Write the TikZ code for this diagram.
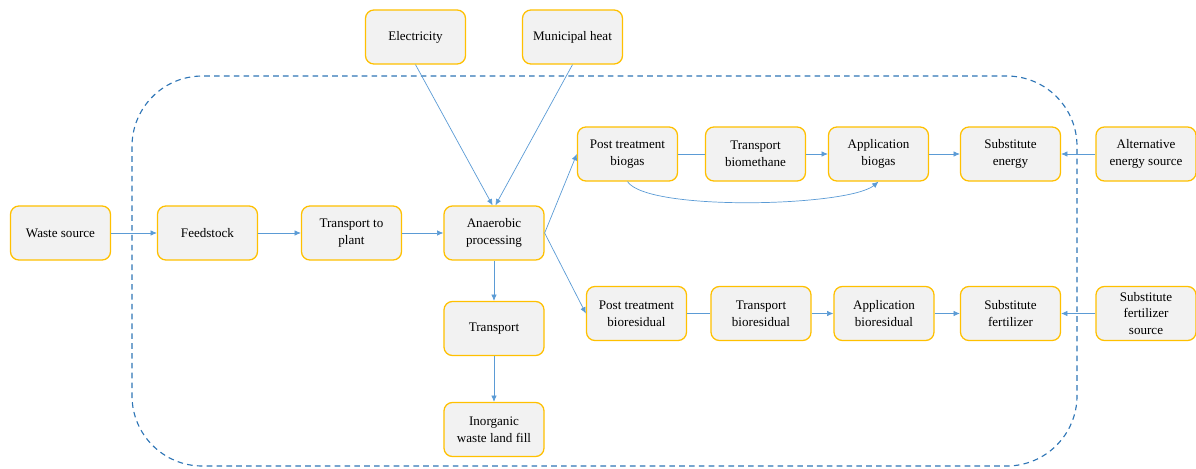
\documentclass[tikz,border=0pt]{standalone}
\usepackage{fontspec}
\setmainfont{Liberation Serif}
\usepackage{tikz}
\usepackage{xcolor}
\usetikzlibrary{arrows.meta}
\definecolor{boxfill}{RGB}{242, 242, 242}
\definecolor{boxline}{RGB}{255, 192, 0}
\definecolor{flowline}{RGB}{91, 155, 213}
\definecolor{bound}{RGB}{46, 117, 182}

\begin{document}
\begin{tikzpicture}[x=0.025cm, y=-0.025cm,
    stage/.style={draw=boxline, fill=boxfill, line width=0.9pt, rounded corners=6pt,
        minimum width=2.5cm, minimum height=1.35cm, align=center,
        font=\fontsize{9.3}{11.8}\selectfont},
    flow/.style={draw=flowline, line width=0.5pt, -{Latex[length=4.5pt,width=4pt]}},
    link/.style={draw=flowline, line width=0.5pt}]
            \useasboundingbox (0,0) rectangle (1196,468);
            \draw[bound, line width=0.8pt, dash pattern=on 4pt off 3pt, rounded corners=50pt] (132,76) rectangle (1077,466);
            % main line
            \node[stage] (waste) at (60.5,233) {Waste source};
            \node[stage] (feed) at (207.5,233) {Feedstock};
            \node[stage] (toplant) at (351.5,233) {Transport to\\plant};
            \node[stage] (ad) at (494,233) {Anaerobic\\processing};
            \node[stage] (elec) at (415.5,37) {Electricity};
            \node[stage] (heat) at (572.5,37) {Municipal heat};
            \node[stage] (trans) at (494,328.5) {Transport};
            \node[stage] (fill) at (494,429.5) {Inorganic\\waste land fill};
            % biogas line
            \node[stage] (ptgas) at (627.5,154) {Post treatment\\biogas};
            \node[stage] (tbio) at (755.5,154) {Transport\\biomethane};
            \node[stage] (appgas) at (878.5,154) {Application\\biogas};
            \node[stage] (subenergy) at (1010.5,154) {Substitute\\energy};
            \node[stage] (altenergy) at (1146,154) {Alternative\\energy source};
            % bioresidual line
            \node[stage] (ptres) at (636.5,313.5) {Post treatment\\bioresidual};
            \node[stage] (tres) at (761,313.5) {Transport\\bioresidual};
            \node[stage] (appres) at (884,313.5) {Application\\bioresidual};
            \node[stage] (subfert) at (1010.5,313.5) {Substitute\\fertilizer};
            \node[stage] (fertsrc) at (1146,313.5) {Substitute\\fertilizer\\source};

            \draw[flow] (waste) -- (feed);
            \draw[flow] (feed) -- (toplant);
            \draw[flow] (toplant) -- (ad);
            \draw[flow] (elec.south) -- ([xshift=-1pt]ad.north);
            \draw[flow] (heat.south) -- ([xshift=1pt]ad.north);
            \draw[flow] (ad) -- (trans);
            \draw[flow] (trans) -- (fill);
            \draw[flow] (ad.east) -- (ptgas.west);
            \draw[flow] (ad.east) -- (ptres.west);
            \draw[link] (ptgas) -- (tbio);
            \draw[flow] (tbio) -- (appgas);
            \draw[flow] (appgas) -- (subenergy);
            \draw[flow] (altenergy) -- (subenergy);
            \draw[flow] (ptgas.south) .. controls +(20,30) and +(-30,25) .. (appgas.south);
            \draw[link] (ptres) -- (tres);
            \draw[flow] (tres) -- (appres);
            \draw[flow] (appres) -- (subfert);
            \draw[flow] (fertsrc) -- (subfert);
        \end{tikzpicture}
\end{document}
